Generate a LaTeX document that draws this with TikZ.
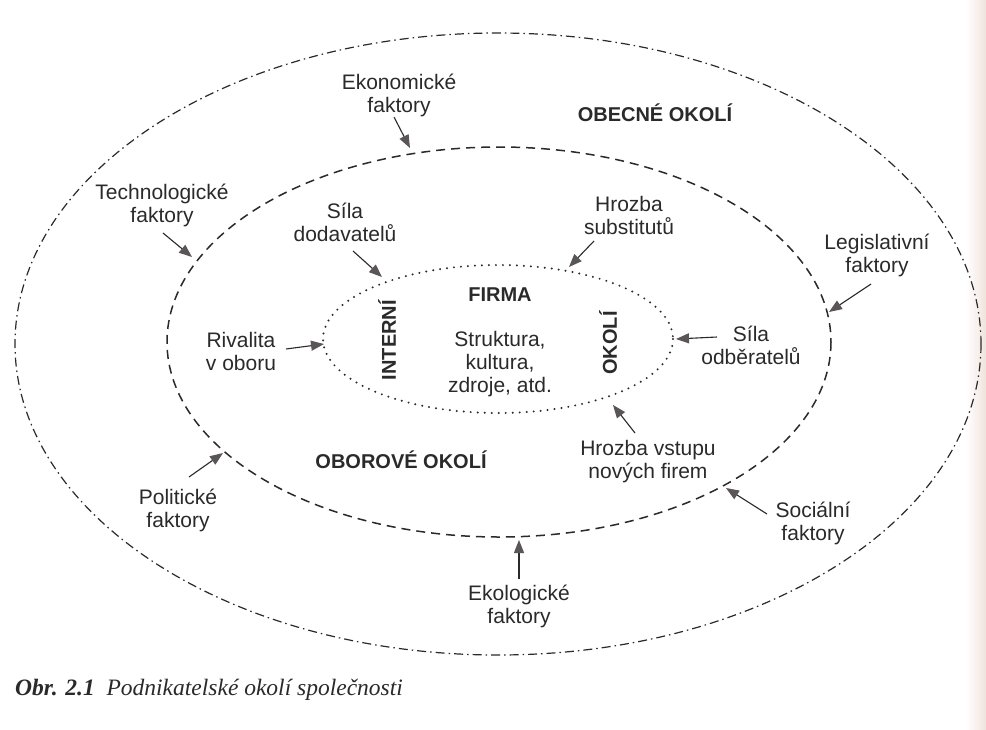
\documentclass[tikz,border=0pt]{standalone}
\usepackage{fontspec}
\setmainfont{Liberation Sans}
\newfontfamily\capfont{Liberation Serif}
\usetikzlibrary{arrows.meta}
\definecolor{inkc}{HTML}{2A2A2A}
\definecolor{tipc}{HTML}{5A5656}
\definecolor{edgec}{HTML}{F0E3DC}
\begin{document}
\begin{tikzpicture}[x=1pt,y=-1pt,
  lbl/.style={align=center,text=inkc,font=\fontsize{21}{23}\selectfont,inner sep=0pt},
  blbl/.style={text=inkc,font=\fontsize{20}{23}\selectfont\bfseries,inner sep=0pt},
  arr/.style={draw=inkc,line width=1.1pt,-{Triangle[length=13pt,width=10pt,fill=tipc,color=tipc]}},
  outerl/.style={draw=inkc,line width=1.2pt,dash pattern=on 9pt off 4pt on 1.5pt off 4pt},
  midl/.style={draw=inkc,line width=1.5pt,dash pattern=on 9pt off 6pt},
  innerl/.style={draw=inkc,line width=2.2pt,line cap=round,dash pattern=on 0pt off 7pt}]
\useasboundingbox (0,0) rectangle (986,729);
\fill[white] (0,0) rectangle (986,729);
\shade[left color=white,right color=edgec] (966,0) rectangle (986,729);
% ellipses
\draw[outerl] (498,344) ellipse [x radius=483, y radius=311];
\draw[midl] (499,342) ellipse [x radius=332, y radius=195];
\draw[innerl] (498,339) ellipse [x radius=175, y radius=74];
% labels
\node[lbl] (ekon) at (399,95) {Ekonomické\\faktory};
\node[blbl] (obec) at (655,113) {OBECNÉ OKOLÍ};
\node[lbl] (tech) at (162,205) {Technologické\\faktory};
\node[lbl] (dod) at (345,222) {Síla\\dodavatelů};
\node[lbl] (subs) at (629,215) {Hrozba\\substitutů};
\node[lbl] (legi) at (877,255) {Legislativní\\faktory};
\node[blbl] (firma) at (500,295) {FIRMA};
\node[blbl,rotate=90] (interni) at (387,340) {INTERNÍ};
\node[blbl,rotate=90] (okoli) at (608,343) {OKOLÍ};
\node[lbl] (strukt) at (500,364) {Struktura,\\kultura,\\zdroje, atd.};
\node[lbl] (rival) at (241,351) {Rivalita\\v oboru};
\node[lbl] (odb) at (751,345) {Síla\\odběratelů};
\node[lbl] (vstup) at (648,462) {Hrozba vstupu\\nových firem};
\node[blbl] (obor) at (401,460) {OBOROVÉ OKOLÍ};
\node[lbl] (poli) at (178,510) {Politické\\faktory};
\node[lbl] (soci) at (813,523) {Sociální\\faktory};
\node[lbl] (ekol) at (519,606) {Ekologické\\faktory};
\node[anchor=west,text=inkc,inner sep=0pt,font=\capfont\fontsize{23.5}{26}\selectfont] (cap) at (15,690) {\textbf{\textit{Obr. 2.1}}\ \ \textit{Podnikatelské okolí společnosti}};
% arrow endpoints
\coordinate (ekonS) at (394,117); \coordinate (ekonT) at (410,148);
\coordinate (techS) at (163,233); \coordinate (techT) at (192,257);
\coordinate (dodS) at (353,251); \coordinate (dodT) at (382,277);
\coordinate (subsS) at (594,241); \coordinate (subsT) at (569,267);
\coordinate (legiS) at (871,284); \coordinate (legiT) at (829,312);
\coordinate (rivalS) at (286,349); \coordinate (rivalT) at (324,344);
\coordinate (odbS) at (717,337); \coordinate (odbT) at (676,339);
\coordinate (vstupS) at (635,433); \coordinate (vstupT) at (613,405);
\coordinate (poliS) at (189,477); \coordinate (poliT) at (223,453);
\coordinate (sociS) at (767,514); \coordinate (sociT) at (726,488);
\coordinate (ekolS) at (519,579); \coordinate (ekolT) at (519,540);
\foreach \n in {ekon,tech,dod,subs,legi,rival,odb,vstup,poli,soci,ekol}
  \draw[arr] (\n S) -- (\n T);
\end{tikzpicture}
\end{document}
